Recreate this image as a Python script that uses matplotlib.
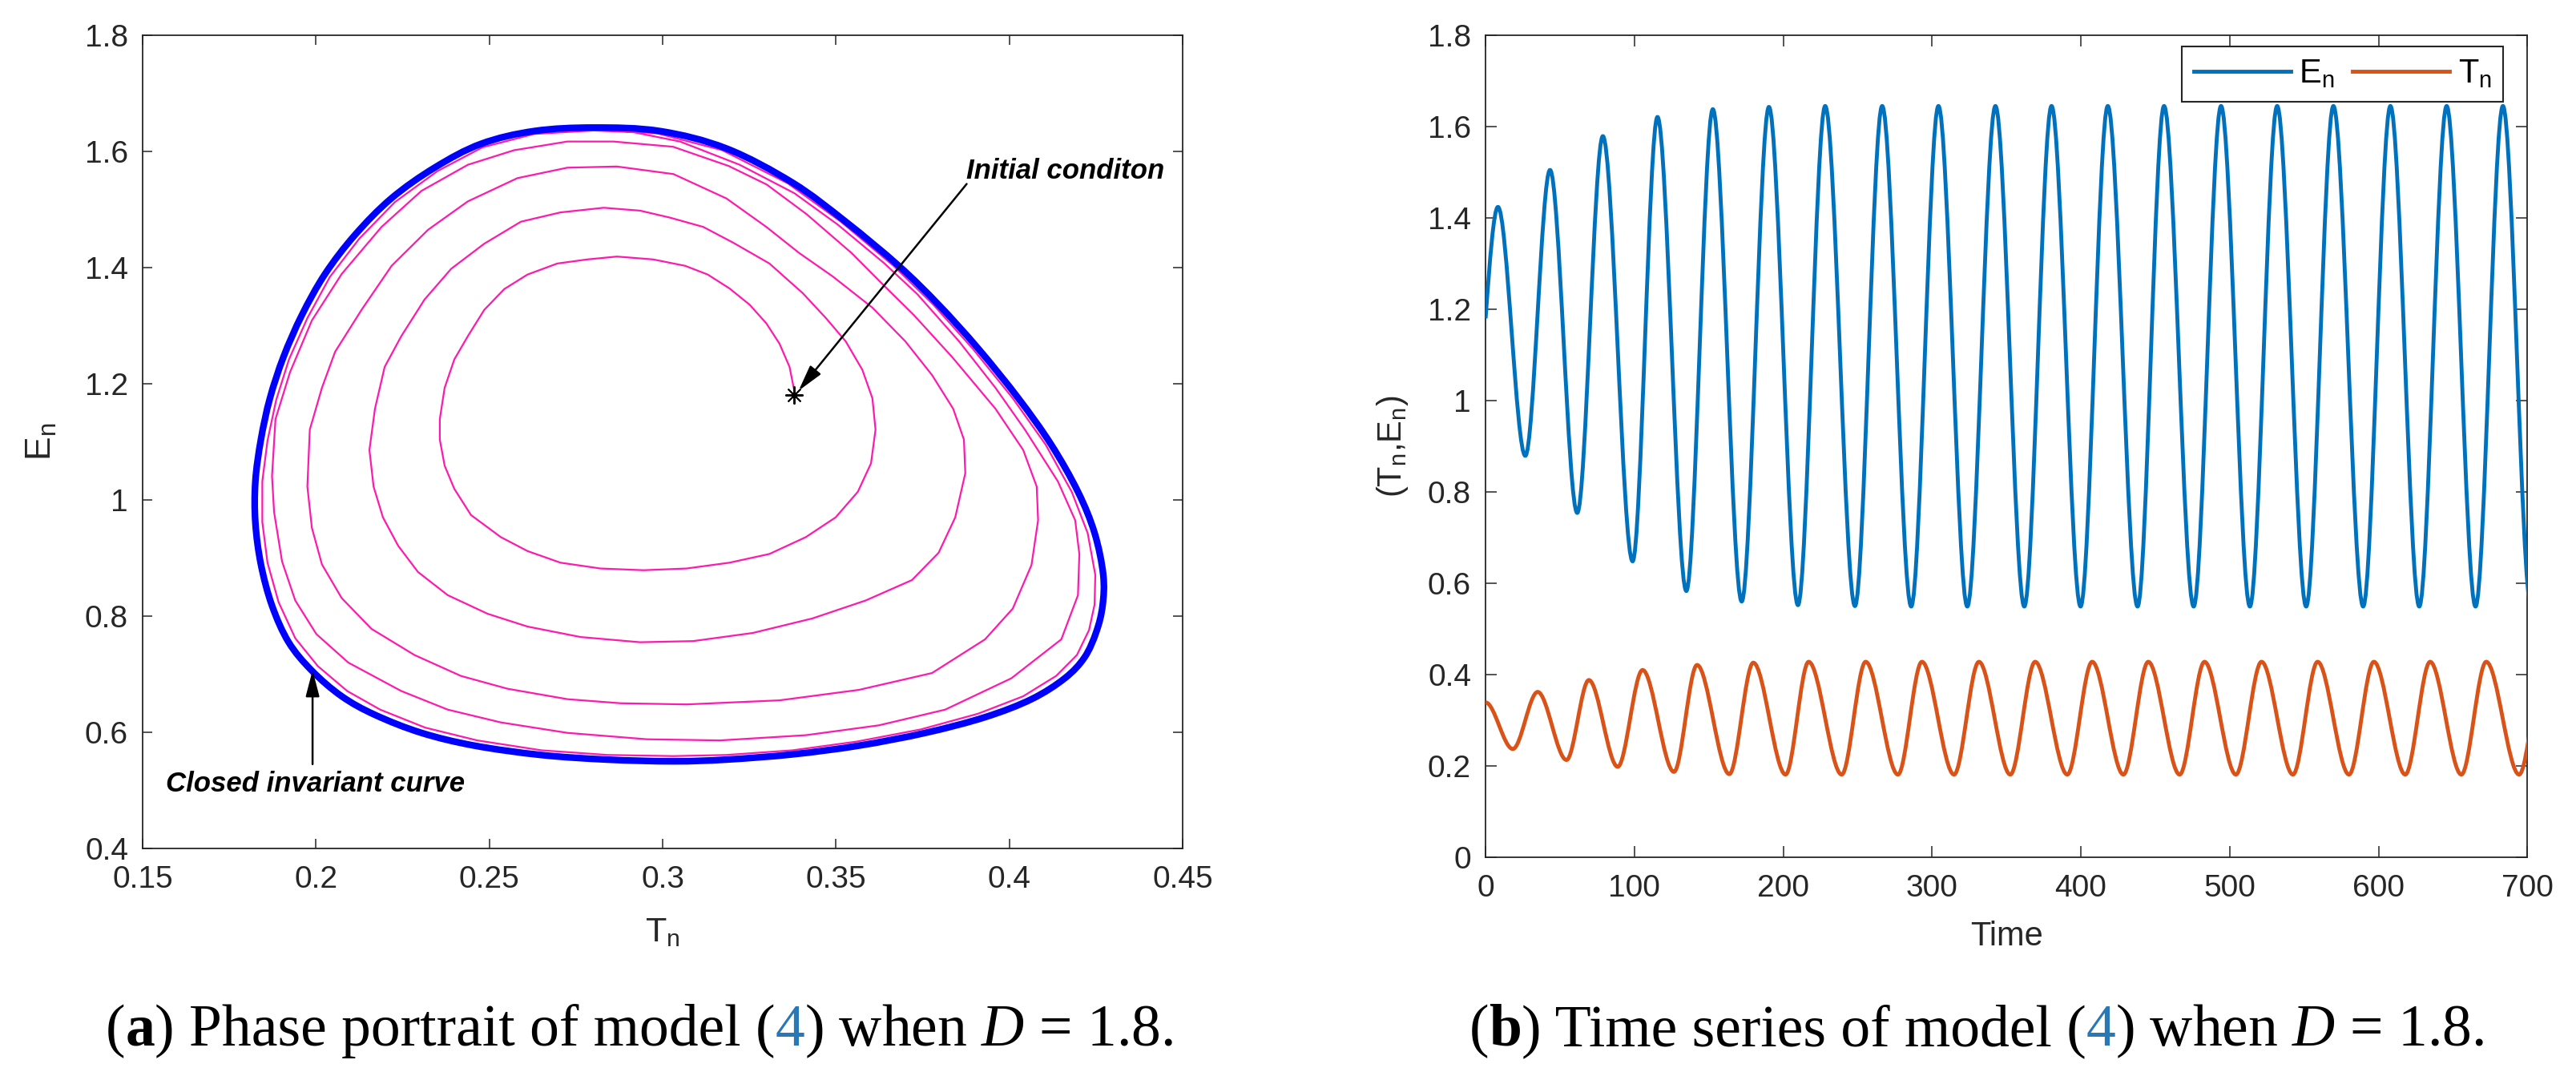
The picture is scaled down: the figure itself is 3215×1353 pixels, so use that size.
import numpy as np
import matplotlib
matplotlib.use('Agg')
import matplotlib.pyplot as plt
from matplotlib.path import Path
from matplotlib.patches import PathPatch
from matplotlib.lines import Line2D
from matplotlib.offsetbox import TextArea, HPacker, AnnotationBbox

plt.rcParams['font.family'] = ['Liberation Sans', 'DejaVu Sans']
plt.rcParams['mathtext.default'] = 'regular'
plt.rcParams['mathtext.fontset'] = 'custom'
plt.rcParams['mathtext.rm'] = 'Liberation Serif'
plt.rcParams['mathtext.it'] = 'Liberation Serif:italic'

# ---- panel (a): phase portrait ----
# pink orbit from the initial condition, loop by loop
spiral_T = [0.3381, 0.3366, 0.3337, 0.3299, 0.3251, 0.3193, 0.3130, 0.3065, 0.2973, 0.2868, 0.2782,
            0.2696, 0.2610, 0.2543, 0.2485, 0.2438, 0.2399, 0.2371, 0.2357, 0.2357, 0.2371, 0.2399,
            0.2447, 0.2533, 0.2610, 0.2705, 0.2820, 0.2945, 0.3069, 0.3193, 0.3308, 0.3413, 0.3499,
            0.3563, 0.3601, 0.3614, 0.3605, 0.3576, 0.3528, 0.3471, 0.3404, 0.3308, 0.3203, 0.3117,
            0.3021, 0.2935, 0.2830,
            0.2705, 0.2591, 0.2485, 0.2390, 0.2313, 0.2246, 0.2198, 0.2170, 0.2154, 0.2166, 0.2193,
            0.2237, 0.2294, 0.2380, 0.2495, 0.2610, 0.2763, 0.2935, 0.3088, 0.3260, 0.3432, 0.3586,
            0.3719, 0.3796, 0.3844, 0.3873, 0.3869, 0.3838, 0.3777, 0.3700, 0.3605, 0.3490, 0.3394,
            0.3299, 0.3184, 0.3031, 0.2868,
            0.2725, 0.2581, 0.2438, 0.2323, 0.2218, 0.2131, 0.2055, 0.2017, 0.1982, 0.1975, 0.1988,
            0.2017, 0.2074, 0.2160, 0.2284, 0.2418, 0.2552, 0.2725, 0.2878, 0.3069, 0.3337, 0.3566,
            0.3777, 0.3930, 0.4010, 0.4064, 0.4083, 0.4079, 0.4040, 0.3960, 0.3835, 0.3725, 0.3635,
            0.3545, 0.3415, 0.3300, 0.3190, 0.3030, 0.2858,
            0.2725, 0.2571, 0.2438, 0.2304, 0.2189, 0.2074, 0.1988, 0.1925, 0.1883, 0.1873, 0.1879,
            0.1902, 0.1940, 0.2001, 0.2093, 0.2246, 0.2380, 0.2533, 0.2725, 0.2954, 0.3165, 0.3413,
            0.3624, 0.3815, 0.4006, 0.4150, 0.4198, 0.4202, 0.4190, 0.4140, 0.4045, 0.3960, 0.3855,
            0.3735, 0.3640, 0.3505, 0.3380, 0.3222, 0.3050, 0.2916, 0.2801,
            0.2629, 0.2480, 0.2350, 0.2228, 0.2125, 0.2040, 0.1975, 0.1922, 0.1885, 0.1860, 0.1845,
            0.1845, 0.1860, 0.1892, 0.1940, 0.2005, 0.2090, 0.2185, 0.2315, 0.2465, 0.2650, 0.2840,
            0.3031, 0.3184, 0.3375, 0.3560, 0.3745, 0.3910, 0.4040, 0.4135, 0.4195, 0.4230, 0.4246,
            0.4248, 0.4226, 0.4180, 0.4105, 0.4010, 0.3895, 0.3781, 0.3666, 0.3514, 0.3361, 0.3172,
            0.2985, 0.2801]
spiral_E = [1.184, 1.229, 1.269, 1.304, 1.336, 1.364, 1.388, 1.403, 1.414, 1.419, 1.414,
            1.407, 1.388, 1.363, 1.327, 1.282, 1.242, 1.193, 1.139, 1.104, 1.059, 1.019,
            0.974, 0.936, 0.912, 0.892, 0.882, 0.879, 0.882, 0.892, 0.907, 0.936, 0.970,
            1.014, 1.063, 1.121, 1.175, 1.224, 1.273, 1.313, 1.356, 1.407, 1.443, 1.470,
            1.486, 1.498, 1.503,
            1.495, 1.479, 1.441, 1.398, 1.345, 1.282, 1.229, 1.157, 1.086, 1.023, 0.970,
            0.921, 0.876, 0.836, 0.804, 0.782, 0.764, 0.755, 0.757, 0.771, 0.796, 0.827,
            0.862, 0.909, 0.970, 1.046, 1.104, 1.157, 1.215, 1.273, 1.331, 1.385, 1.425,
            1.470, 1.519, 1.561, 1.574,
            1.572, 1.554, 1.514, 1.465, 1.403, 1.327, 1.255, 1.193, 1.121, 1.023, 0.952,
            0.889, 0.831, 0.778, 0.733, 0.697, 0.675, 0.657, 0.650, 0.648, 0.655, 0.673,
            0.702, 0.760, 0.813, 0.888, 0.965, 1.023, 1.086, 1.157, 1.246, 1.318, 1.371,
            1.425, 1.492, 1.543, 1.575, 1.608, 1.617,
            1.617, 1.602, 1.577, 1.532, 1.470, 1.389, 1.309, 1.220, 1.139, 1.041, 0.979,
            0.894, 0.827, 0.769, 0.720, 0.671, 0.639, 0.617, 0.599, 0.588, 0.586, 0.595,
            0.612, 0.639, 0.693, 0.760, 0.836, 0.907, 0.965, 1.032, 1.121, 1.193, 1.273,
            1.354, 1.407, 1.474, 1.528, 1.577, 1.617, 1.633, 1.636,
            1.630, 1.607, 1.566, 1.513, 1.450, 1.384, 1.313, 1.242, 1.172, 1.102, 1.032,
            0.962, 0.892, 0.824, 0.762, 0.714, 0.671, 0.639, 0.608, 0.586, 0.569, 0.561,
            0.559, 0.561, 0.569, 0.584, 0.605, 0.632, 0.662, 0.697, 0.733, 0.776, 0.820,
            0.871, 0.943, 1.014, 1.095, 1.175, 1.260, 1.336, 1.403, 1.479, 1.545, 1.602,
            1.631, 1.638]

# blue closed invariant curve (last point repeats the first)
cic_T = [0.2801, 0.2992, 0.3184, 0.3375, 0.3528, 0.3681, 0.3796, 0.3911, 0.4026, 0.4121, 0.4198,
         0.4246, 0.4271, 0.4269, 0.4251, 0.4217, 0.4160, 0.4064, 0.3930, 0.3758, 0.3566, 0.3375,
         0.3184, 0.3031, 0.2839, 0.2648, 0.2457, 0.2304, 0.2170, 0.2074, 0.1988, 0.1921, 0.1873,
         0.1841, 0.1825, 0.1825, 0.1841, 0.1867, 0.1906, 0.1959, 0.2026, 0.2112, 0.2217, 0.2342,
         0.2476, 0.2629, 0.2801]
cic_E = [1.641, 1.635, 1.605, 1.546, 1.479, 1.403, 1.336, 1.260, 1.175, 1.095, 1.014,
         0.943, 0.871, 0.818, 0.773, 0.729, 0.693, 0.657, 0.626, 0.599, 0.577, 0.562,
         0.553, 0.550, 0.553, 0.561, 0.577, 0.599, 0.630, 0.662, 0.706, 0.755, 0.818,
         0.889, 0.961, 1.032, 1.104, 1.175, 1.246, 1.318, 1.389, 1.456, 1.519, 1.572,
         1.613, 1.635, 1.641]

init_T, init_E = 0.338, 1.18

a_xticks = [0.15, 0.2, 0.25, 0.3, 0.35, 0.4, 0.45]
a_yticks = [0.4, 0.6, 0.8, 1.0, 1.2, 1.4, 1.6, 1.8]

# ---- panel (b): time series, local extrema ----
E_t = [0, 8.3, 26.7, 43.3, 61.6, 78.8, 98.8, 115.5, 134.9, 152.7, 172.1, 190.4, 209.9, 228.2, 248.2,
       266.5, 286.0, 304.3, 323.7, 342.6, 362.0, 380.3, 399.8, 418.1, 438.1, 455.9, 475.8, 494.2,
       513.6, 531.9, 551.4, 569.7, 589.7, 608.0, 627.4, 645.8, 665.2, 683.6, 702.5]
E_v = [1.18, 1.424, 0.879, 1.505, 0.754, 1.579, 0.648, 1.621, 0.583, 1.638, 0.560, 1.643, 0.552, 1.645,
       0.550, 1.645, 0.549, 1.645, 0.549, 1.645, 0.549, 1.645, 0.549, 1.645, 0.549, 1.645, 0.549, 1.645,
       0.549, 1.645, 0.549, 1.645, 0.549, 1.645, 0.549, 1.645, 0.549, 1.645, 0.549]
T_t = [0, 18.3, 35.0, 54.4, 69.4, 88.8, 105.5, 126.6, 142.1, 163.8, 179.9, 201.6, 217.1, 239.3, 255.4,
       277.1, 293.2, 314.8, 331.5, 352.6, 369.3, 390.9, 407.6, 428.6, 445.3, 466.4, 483.1, 504.2,
       521.4, 542.5, 559.1, 580.2, 596.9, 618.0, 634.7, 655.7, 672.4, 694.5, 711.5]
T_v = [0.339, 0.237, 0.362, 0.213, 0.388, 0.198, 0.410, 0.187, 0.421, 0.182, 0.426, 0.181, 0.428, 0.181,
       0.428, 0.181, 0.428, 0.181, 0.428, 0.181, 0.428, 0.181, 0.428, 0.181, 0.428, 0.181, 0.428, 0.181,
       0.428, 0.181, 0.428, 0.181, 0.428, 0.181, 0.428, 0.181, 0.428, 0.181, 0.428]

b_xticks = [0, 100, 200, 300, 400, 500, 600, 700]
b_yticks = [0, 0.2, 0.4, 0.6, 0.8, 1.0, 1.2, 1.4, 1.6, 1.8]

col_E = '#0072BD'
col_T = '#D95319'
axcol = '0.15'


def wave_path(ts, vs, first_slope=0.0):
    # smooth curve through the extrema, flat at each turning point
    verts = [(ts[0], vs[0])]
    codes = [Path.MOVETO]
    for i in range(len(ts) - 1):
        t0, v0, t1, v1 = ts[i], vs[i], ts[i + 1], vs[i + 1]
        dt = t1 - t0
        s0 = first_slope if i == 0 else 0.0
        verts += [(t0 + dt / 3, v0 + s0 * dt / 3), (t1 - dt / 3, v1), (t1, v1)]
        codes += [Path.CURVE4] * 3
    return Path(verts, codes)


def closed_smooth_path(xs, ys):
    # closed curve through the traced points (Catmull-Rom style handles)
    pts = np.column_stack([xs, ys])[:-1]
    n = len(pts)
    verts = [tuple(pts[0])]
    codes = [Path.MOVETO]
    for i in range(n):
        p0, p1, p2, p3 = pts[i - 1], pts[i], pts[(i + 1) % n], pts[(i + 2) % n]
        verts += [tuple(p1 + (p2 - p0) / 6), tuple(p2 - (p3 - p1) / 6), tuple(p2)]
        codes += [Path.CURVE4] * 3
    return Path(verts, codes)


def style_axes(ax, ticklen):
    for s in ax.spines.values():
        s.set_color(axcol)
        s.set_linewidth(1.3)
    ax.tick_params(direction='in', top=True, right=True, length=ticklen, width=1.1,
                   color=axcol, labelcolor=axcol, labelsize=28)
    ax.tick_params(axis='x', pad=15)
    ax.tick_params(axis='y', pad=13)


fig = plt.figure(figsize=(32.15, 13.53), dpi=100)

# panel (a)
ax1 = fig.add_axes([0.0554, 0.2173, 0.4037, 0.7502])
ax1.plot(spiral_T, spiral_E, color='#FF1AAE', lw=1.6, zorder=2)
ax1.add_patch(PathPatch(closed_smooth_path(cic_T, cic_E), facecolor='none', edgecolor='#0000FF',
                        lw=6, joinstyle='round', zorder=3))
ax1.plot([init_T], [init_E], marker=(8, 2, 0), ms=16, mew=1.4, color='k', ls='none', zorder=5)
ax1.set_xlim(0.15, 0.45)
ax1.set_ylim(0.4, 1.8)
ax1.set_xticks(a_xticks, ['%g' % v for v in a_xticks])
ax1.set_yticks(a_yticks, ['%g' % v for v in a_yticks])
style_axes(ax1, 8.6)
ax1.set_xlabel('$T_n$', fontsize=31, color=axcol, labelpad=20)
ax1.set_ylabel('$E_n$', fontsize=32, color=axcol, labelpad=24)

arrow_kw = dict(arrowstyle='-|>,head_length=0.5,head_width=0.13', color='k', lw=1.8,
                shrinkA=0, shrinkB=0, mutation_scale=40)
ax1.annotate('', xy=(0.3392, 1.188), xytext=(0.3877, 1.544), arrowprops=arrow_kw, zorder=6)
ax1.text(0.3877, 1.553, 'Initial conditon', fontsize=25, fontweight='bold',
         fontstyle='italic', ha='left', va='baseline')
ax1.annotate('', xy=(0.199, 0.707), xytext=(0.199, 0.545), arrowprops=arrow_kw, zorder=6)
ax1.text(0.1997, 0.4975, 'Closed invariant curve', fontsize=25, fontweight='bold',
         fontstyle='italic', ha='center', va='baseline')

# panel (b)
ax2 = fig.add_axes([0.5767, 0.2092, 0.4044, 0.7583])
ax2.add_patch(PathPatch(wave_path(E_t, E_v, first_slope=0.045), facecolor='none',
                        edgecolor=col_E, lw=3.5, joinstyle='round', zorder=3))
ax2.add_patch(PathPatch(wave_path(T_t, T_v), facecolor='none',
                        edgecolor=col_T, lw=3.5, joinstyle='round', zorder=3))
ax2.set_xlim(0, 700)
ax2.set_ylim(0, 1.8)
ax2.set_xticks(b_xticks, ['%g' % v for v in b_xticks])
ax2.set_yticks(b_yticks, ['%g' % v for v in b_yticks])
style_axes(ax2, 10)
ax2.set_xlabel('Time', fontsize=30, color=axcol, labelpad=16)
ax2.set_ylabel('($T_n$,$E_n$)', fontsize=30, color=axcol, labelpad=16)

handles = [Line2D([], [], color=col_E, lw=3.5, label='$E_n$'),
           Line2D([], [], color=col_T, lw=3.5, label='$T_n$')]
leg = ax2.legend(handles=handles, ncol=2, loc='upper right', bbox_to_anchor=(0.977, 0.9864),
                 borderaxespad=0, fancybox=False, framealpha=1, edgecolor=axcol,
                 prop={'size': 30}, handlelength=2.9, handletextpad=0.25,
                 columnspacing=0.55, borderpad=0.35)
leg.get_frame().set_linewidth(1.5)


# captions
def caption(parts, x, y):
    boxes = []
    for s, kw in parts:
        props = dict(fontsize=53, family='Liberation Serif', color='k')
        props.update(kw)
        boxes.append(TextArea(s, textprops=props))
    pack = HPacker(children=boxes, align='baseline', pad=0, sep=0)
    fig.add_artist(AnnotationBbox(pack, (x, y), xycoords='figure fraction', frameon=False,
                                  box_alignment=(0.5, 0.5)))


link = '#2878B8'
caption([('(', {}), ('a', {'fontweight': 'bold'}), (') Phase portrait of model (', {}),
         ('4', {'color': link}), (r') when $\mathit{D}$ = 1.8.', {})], 0.2482, 0.0488)
caption([('(', {}), ('b', {'fontweight': 'bold'}), (') Time series of model (', {}),
         ('4', {'color': link}), (r') when $\mathit{D}$ = 1.8.', {})], 0.7673, 0.0488)

fig.savefig('out.png', dpi=100)
